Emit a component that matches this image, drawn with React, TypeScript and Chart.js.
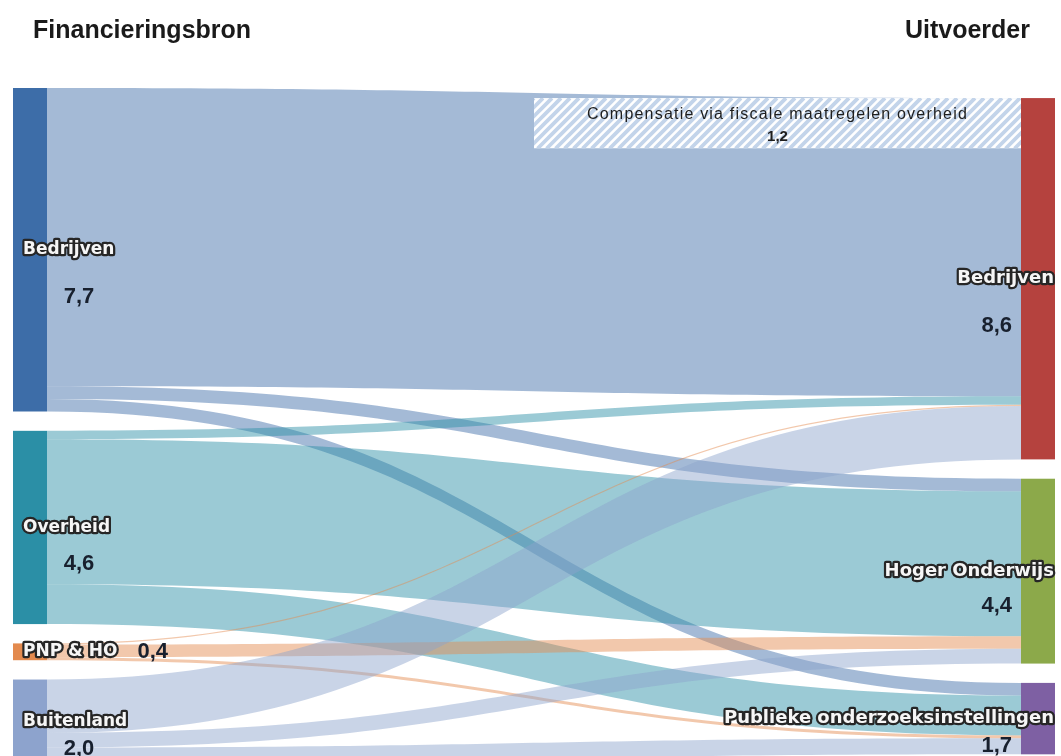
import React, { useEffect, useRef } from 'react';
import { Chart, registerables } from 'chart.js';

Chart.register(...registerables);

// R&D spending (billion euro): who pays (sources) and who performs (targets)
const sourceNames = ['Bedrijven', 'Overheid', 'PNP & HO', 'Buitenland'];
const targetNames = ['Bedrijven', 'Hoger Onderwijs', 'Publieke onderzoeksinstellingen'];

// each source split over the targets, in targetNames order
const bedrijvenFlows = [7.1, 0.3, 0.3];
const overheidFlows = [0.2, 3.45, 0.95];
const pnpFlows = [0.03, 0.3, 0.07];
const buitenlandFlows = [1.27, 0.35, 0.38];

// part of business R&D compensated through government tax measures
const fiscalCompensation = 1.2;
const fiscalLabel = 'Compensatie via fiscale maatregelen overheid';

const columnTitles = ['Financieringsbron', 'Uitvoerder'];

const sourceColors = ['#3d6da8', '#2b8fa6', '#e38a4e', '#8da3cd'];
const targetColors = ['#b5423e', '#8ca94a', '#7e60a3'];

const LINK_ALPHA = 0.47;
const NODE_GAP = 0.46; // vertical gap between nodes, in value units
const RIGHT_OFFSET = 0.24; // right column starts slightly lower
const NODE_W = 34; // node bar width in px
const Y_MAX = 15.9;

const withAlpha = (hex: string, a: number) => {
  const n = parseInt(hex.slice(1), 16);
  return `rgba(${(n >> 16) & 255},${(n >> 8) & 255},${n & 255},${a})`;
};
const fmt = (v: number) => v.toFixed(1).replace('.', ',');

function outlinedText(ctx: CanvasRenderingContext2D, text: string, x: number, y: number, align: CanvasTextAlign, size: number) {
  ctx.save();
  ctx.font = `bold ${size}px "DejaVu Sans", sans-serif`;
  ctx.textAlign = align;
  ctx.textBaseline = 'middle';
  ctx.lineJoin = 'round';
  ctx.lineWidth = 4.5;
  ctx.strokeStyle = '#262626';
  ctx.strokeText(text, x, y);
  ctx.fillStyle = '#f6f6f6';
  ctx.fillText(text, x, y);
  const w = ctx.measureText(text).width;
  ctx.restore();
  return w;
}

function valueText(ctx: CanvasRenderingContext2D, text: string, x: number, y: number, align: CanvasTextAlign) {
  ctx.save();
  ctx.font = 'bold 22px "Liberation Sans", Arial, sans-serif';
  ctx.textAlign = align;
  ctx.textBaseline = 'middle';
  ctx.fillStyle = '#18202e';
  ctx.fillText(text, x, y);
  ctx.restore();
}

const sankeyPlugin = {
  id: 'sankeyFlows',
  afterDatasetsDraw(chart: any) {
    const { ctx } = chart;
    const xs = chart.scales.x;
    const ys = chart.scales.y;
    const flowRows = [bedrijvenFlows, overheidFlows, pnpFlows, buitenlandFlows];
    const srcTotals = flowRows.map((r) => r.reduce((a, b) => a + b, 0));
    const tgtTotals = targetNames.map((_, j) => flowRows.reduce((a, r) => a + r[j], 0));

    const srcStart: number[] = [];
    let acc = 0;
    srcTotals.forEach((v) => { srcStart.push(acc); acc += v + NODE_GAP; });
    const tgtStart: number[] = [];
    acc = RIGHT_OFFSET;
    tgtTotals.forEach((v) => { tgtStart.push(acc); acc += v + NODE_GAP; });

    const xl = xs.getPixelForValue(0);
    const xr = xs.getPixelForValue(1);
    const x0 = xl + NODE_W;
    const x1 = xr - NODE_W;
    const xm = (x0 + x1) / 2;

    // flows
    const srcCur = [...srcStart];
    const tgtCur = [...tgtStart];
    flowRows.forEach((row, i) => {
      row.forEach((v, j) => {
        const a0 = ys.getPixelForValue(srcCur[i]);
        const a1 = ys.getPixelForValue(srcCur[i] + v);
        const b0 = ys.getPixelForValue(tgtCur[j]);
        const b1 = ys.getPixelForValue(tgtCur[j] + v);
        srcCur[i] += v;
        tgtCur[j] += v;
        ctx.save();
        ctx.beginPath();
        ctx.moveTo(x0, a0);
        ctx.bezierCurveTo(xm, a0, xm, b0, x1, b0);
        ctx.lineTo(x1, b1);
        ctx.bezierCurveTo(xm, b1, xm, a1, x0, a1);
        ctx.closePath();
        ctx.fillStyle = withAlpha(sourceColors[i], LINK_ALPHA);
        ctx.fill();
        ctx.restore();
      });
    });

    // hatched block for the fiscal compensation inside the business performer flow
    const hx0 = xs.getPixelForValue(0.5);
    const hy0 = ys.getPixelForValue(tgtStart[0]);
    const hy1 = ys.getPixelForValue(tgtStart[0] + fiscalCompensation);
    ctx.save();
    ctx.beginPath();
    ctx.rect(hx0, hy0, x1 - hx0, hy1 - hy0);
    ctx.clip();
    ctx.fillStyle = '#ffffff';
    ctx.fillRect(hx0, hy0, x1 - hx0, hy1 - hy0);
    ctx.strokeStyle = '#c3d4ea';
    ctx.lineWidth = 3.8;
    const h = hy1 - hy0;
    for (let sx = hx0 - h; sx < x1 + h; sx += 9) {
      ctx.beginPath();
      ctx.moveTo(sx, hy1);
      ctx.lineTo(sx + h, hy0);
      ctx.stroke();
    }
    ctx.restore();
    ctx.save();
    const hcx = (hx0 + x1) / 2;
    ctx.textAlign = 'center';
    ctx.textBaseline = 'middle';
    ctx.fillStyle = '#1e1e1e';
    ctx.font = '16px "Liberation Sans", Arial, sans-serif';
    (ctx as any).letterSpacing = '1.2px';
    ctx.fillText(fiscalLabel, hcx, hy0 + h * 0.32);
    (ctx as any).letterSpacing = '0px';
    ctx.font = 'bold 15px "Liberation Sans", Arial, sans-serif';
    ctx.fillText(fmt(fiscalCompensation), hcx, hy0 + h * 0.76);
    ctx.restore();

    // nodes
    srcTotals.forEach((v, i) => {
      const t = ys.getPixelForValue(srcStart[i]);
      const b = ys.getPixelForValue(srcStart[i] + v);
      ctx.fillStyle = sourceColors[i];
      ctx.fillRect(xl, t, NODE_W, b - t);
    });
    tgtTotals.forEach((v, j) => {
      const t = ys.getPixelForValue(tgtStart[j]);
      const b = ys.getPixelForValue(tgtStart[j] + v);
      ctx.fillStyle = targetColors[j];
      ctx.fillRect(x1, t, NODE_W, b - t);
    });

    // node labels and totals
    srcTotals.forEach((v, i) => {
      const t = ys.getPixelForValue(srcStart[i]);
      const b = ys.getPixelForValue(srcStart[i] + v);
      const cy = (t + b) / 2;
      const w = outlinedText(ctx, sourceNames[i], xl + 10, cy, 'left', 17);
      if (b - t < 40) {
        valueText(ctx, fmt(v), xl + 10 + w + 20, cy, 'left');
      } else {
        valueText(ctx, fmt(v), xl + 66, cy + 20 + (b - t) * 0.085, 'center');
      }
    });
    tgtTotals.forEach((v, j) => {
      const t = ys.getPixelForValue(tgtStart[j]);
      const b = ys.getPixelForValue(tgtStart[j] + v);
      const cy = (t + b) / 2;
      outlinedText(ctx, targetNames[j], xr - 1, cy, 'right', 18);
      valueText(ctx, fmt(v), xr - 43, cy + 22 + (b - t) * 0.07, 'right');
    });

    // column titles
    ctx.save();
    ctx.font = 'bold 25px "Liberation Sans", Arial, sans-serif';
    ctx.fillStyle = '#1a1a1a';
    ctx.textBaseline = 'middle';
    ctx.textAlign = 'left';
    ctx.fillText(columnTitles[0], xl + 20, 31);
    ctx.textAlign = 'right';
    ctx.fillText(columnTitles[1], xr - 25, 31);
    ctx.restore();
  },
};

export default function App() {
  const ref = useRef<HTMLCanvasElement>(null);
  useEffect(() => {
    const chart = new Chart(ref.current as HTMLCanvasElement, {
      type: 'scatter',
      data: { datasets: [{ data: [] }] },
      options: {
        animation: false,
        responsive: false,
        devicePixelRatio: 1,
        layout: { padding: { left: 13, right: 6, top: 88, bottom: 0 } },
        scales: {
          x: { type: 'linear', min: 0, max: 1, display: false },
          y: { type: 'linear', min: 0, max: Y_MAX, reverse: true, display: false },
        },
        plugins: { legend: { display: false }, tooltip: { enabled: false } },
      },
      plugins: [sankeyPlugin],
    });
    return () => chart.destroy();
  }, []);
  return (
    <div style={{ position: 'fixed', left: 0, top: 0, width: 1061, height: 756, background: '#ffffff' }}>
      <canvas ref={ref} width={1061} height={756} style={{ display: 'block' }} />
    </div>
  );
}
